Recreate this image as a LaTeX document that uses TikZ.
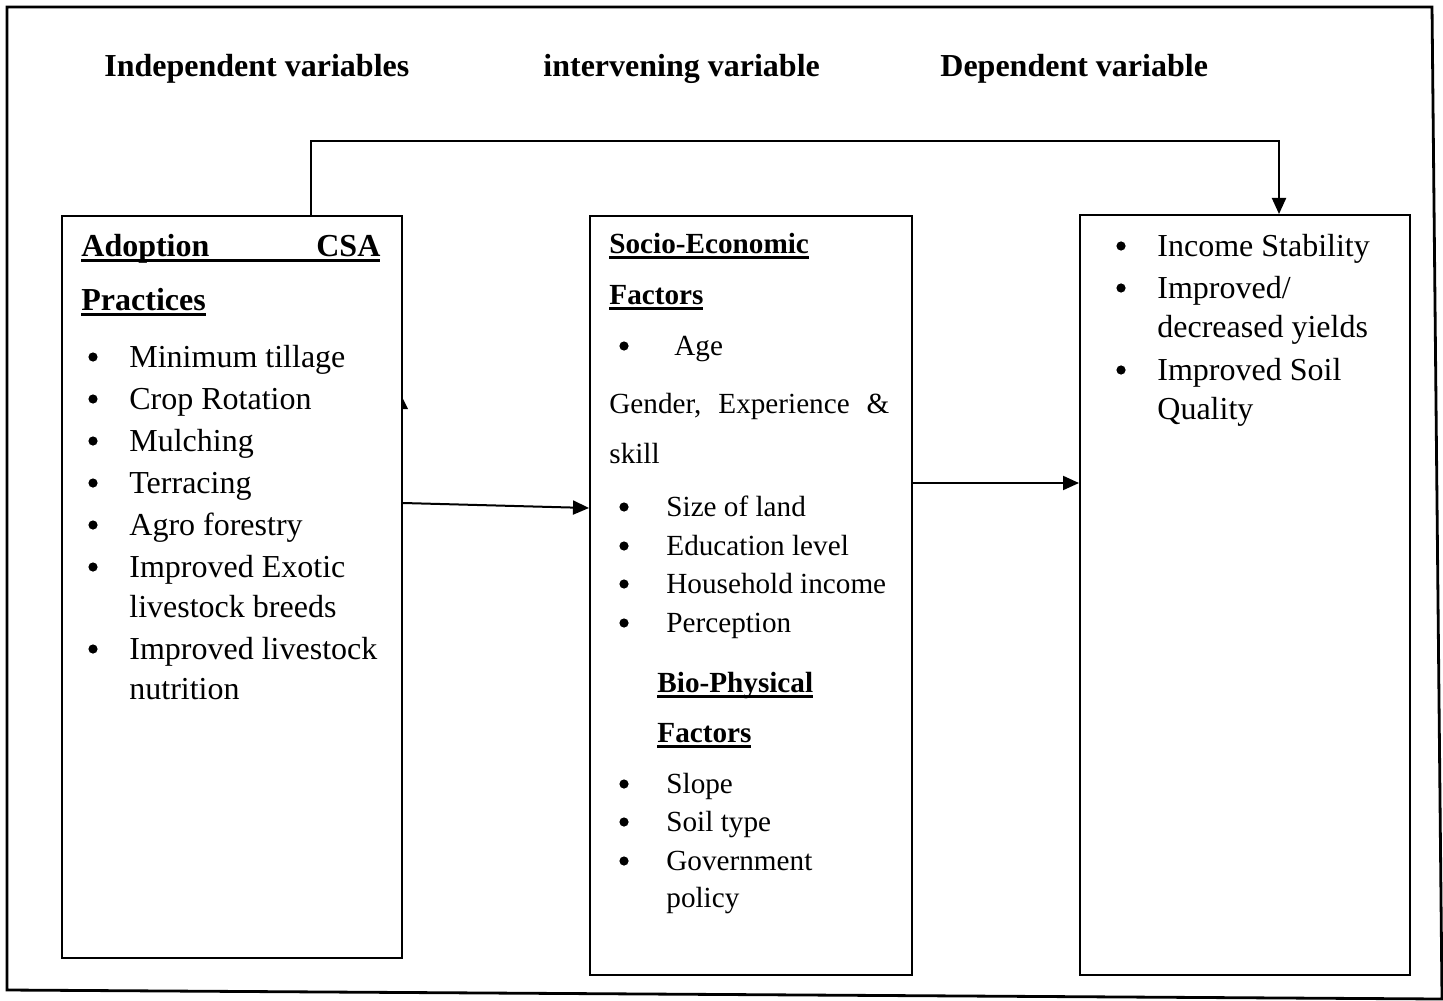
\documentclass[tikz,border=0pt]{standalone}
\usepackage{fontspec}
\setmainfont{Liberation Serif}
\usetikzlibrary{arrows.meta}
\newcommand\ulx[1]{\setbox0\hbox{#1}\rlap{\rule[-3pt]{\wd0}{1.5pt}}\box0}
\tikzset{
  boxnode/.style={draw, line width=1pt, rectangle, anchor=north west, inner sep=0pt},
  big/.style={inner sep=0pt, anchor=base west, font=\fontsize{16}{19}\selectfont},
  small/.style={inner sep=0pt, anchor=base west, font=\fontsize{14.6}{17}\selectfont},
  dot/.style={circle, fill, inner sep=0pt, minimum size=4.6pt},
  arr/.style={line width=1pt, -{Triangle[length=8pt,width=7pt]}},
}
\begin{document}
\begin{tikzpicture}[x=0.5pt, y=-0.5pt]
\useasboundingbox (0,0) rectangle (1443,1000);
% outer frame
\draw[line width=1.4pt] (7,7) -- (1432,7) -- (1442,999) -- (7,990) -- cycle;

% headers
\node[big, font=\fontsize{16}{19}\selectfont\bfseries] (h1) at (104,77) {Independent variables};
\node[big, font=\fontsize{16}{19}\selectfont\bfseries] (h2) at (543,77) {intervening variable};
\node[big, font=\fontsize{16}{19}\selectfont\bfseries] (h3) at (940,77) {Dependent variable};

% boxes
\node[boxnode, minimum width=170pt, minimum height=371pt] (L) at (61,215) {};
\node[boxnode, minimum width=161pt, minimum height=379.5pt] (M) at (589,215) {};
\node[boxnode, minimum width=165pt, minimum height=380pt] (R) at (1079,214) {};

% connectors
\draw[arr] ([xshift=125pt]L.north west) -- ++(0,-74) -| ([xshift=100pt]R.north west);
\draw[arr] ([yshift=-144pt]L.north east) -- ([yshift=-146.5pt]M.north west);
\draw[arr] ([yshift=-134pt]M.north east) -- ([yshift=-134.5pt]R.north west);
% stray arrowhead on left box edge
\fill (401,395) -- (408,409) -- (401,409) -- cycle;

% left box text
\node[big, font=\fontsize{16}{19}\selectfont\bfseries] (l0) at (81,256) {\ulx{\hbox to 149.5pt{Adoption\hfill CSA}}};
\node[big, font=\fontsize{16}{19}\selectfont\bfseries] (l1) at (81,310) {\ulx{Practices}};
\foreach \y/\t [count=\i] in {367/Minimum tillage, 409/Crop Rotation, 451/Mulching, 493/Terracing, 535/Agro forestry, 577/Improved Exotic, 659/Improved livestock}{
  \node[dot] (lb\i) at (93,\y-10) {};
  \node[big] (lt\i) at (129,\y) {\t};
}
\node[big] (lt8) at (129,617) {livestock breeds};
\node[big] (lt9) at (129,699) {nutrition};

% middle box text
\node[small, font=\fontsize{14.6}{17}\selectfont\bfseries] (m0) at (609,253) {\ulx{Socio-Economic}};
\node[small, font=\fontsize{14.6}{17}\selectfont\bfseries] (m1) at (609,304) {\ulx{Factors}};
\node[dot] (mb0) at (624,346) {};
\node[small] (m2) at (674,355) {Age};
\node[small] (m3) at (609,413) {\hbox to 140pt{Gender,\hfill Experience\hfill \&}};
\node[small] (m4) at (609,463) {skill};
\foreach \y/\t [count=\i] in {516/Size of land, 555/Education level, 593/Household income, 632/Perception}{
  \node[dot] (mb\i) at (624,\y-9) {};
  \node[small] (mt\i) at (666,\y) {\t};
}
\node[small, font=\fontsize{14.6}{17}\selectfont\bfseries] (m5) at (657,692) {\ulx{Bio-Physical}};
\node[small, font=\fontsize{14.6}{17}\selectfont\bfseries] (m6) at (657,742) {\ulx{Factors}};
\foreach \y/\t [count=\i] in {793/Slope, 831/Soil type, 870/Government}{
  \node[dot] (mc\i) at (624,\y-9) {};
  \node[small] (ms\i) at (666,\y) {\t};
}
\node[small] (ms4) at (666,907) {policy};

% right box text
\node[dot] (rb1) at (1121,246) {};
\node[big] (r1) at (1157,256) {Income Stability};
\node[dot] (rb2) at (1121,288) {};
\node[big] (r2) at (1157,298) {Improved/};
\node[big] (r3) at (1157,337) {decreased yields};
\node[dot] (rb3) at (1121,370) {};
\node[big] (r4) at (1157,380) {Improved Soil};
\node[big] (r5) at (1157,419) {Quality};
\end{tikzpicture}
\end{document}
